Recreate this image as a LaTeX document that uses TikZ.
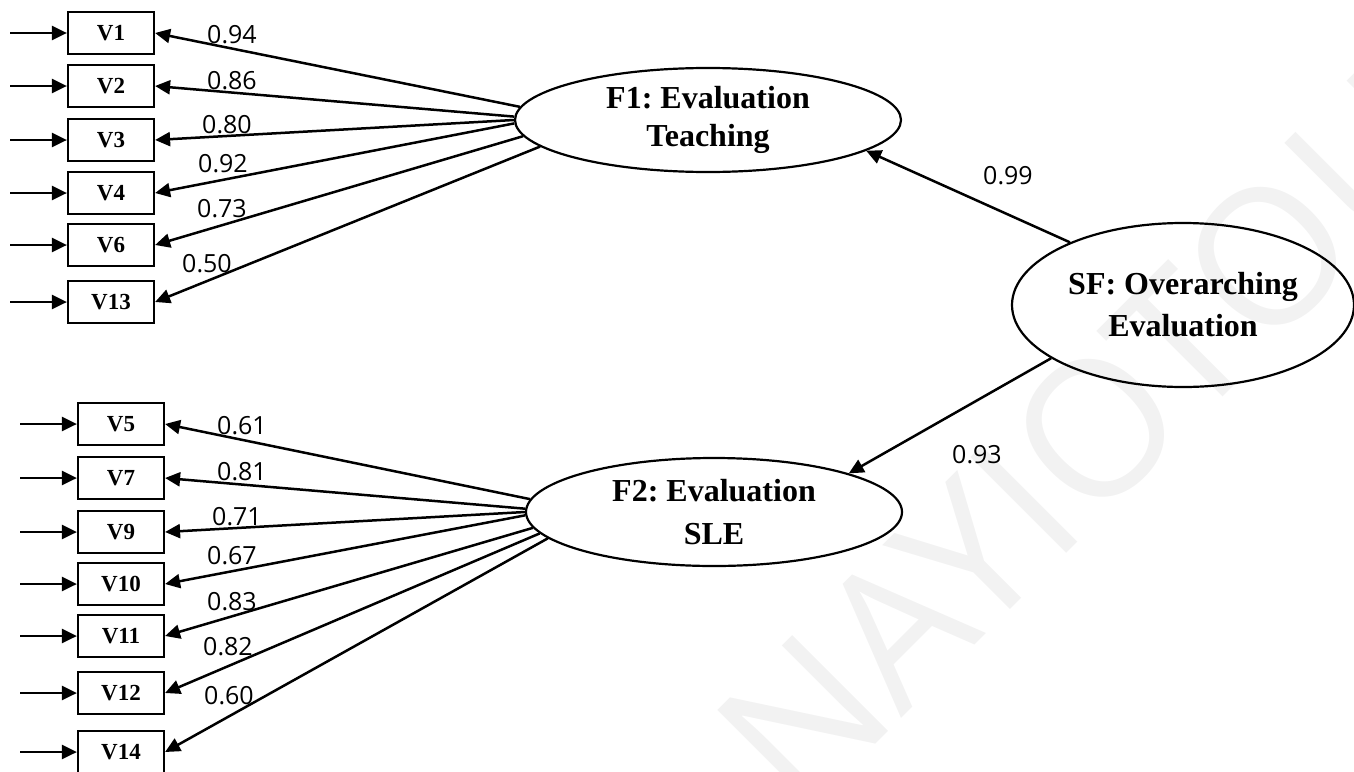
\documentclass[tikz,border=0pt]{standalone}
\usepackage{fontspec}
\setmainfont{Liberation Serif}
\newfontfamily\numfont{Open Sans}
\usetikzlibrary{arrows.meta,shapes.geometric}
\definecolor{wm}{RGB}{242,242,242}
\frenchspacing
\begin{document}
\begin{tikzpicture}[x=1pt,y=-1pt,
  obs/.style={draw, line width=2.2pt, minimum width=86pt, minimum height=42pt, inner sep=0pt,
    font=\fontsize{23}{25}\selectfont\bfseries},
  lat/.style={draw, ellipse, line width=2.2pt, inner sep=0pt, align=center},
  ld/.style={font=\numfont\fontsize{25}{28}\selectfont, inner sep=0pt},
  arr/.style={line width=2.5pt, -{Triangle[length=15pt,width=14pt]}},
]
\useasboundingbox (0,0) rectangle (1354,771);
\begin{scope}
\clip (0,0) rectangle (1354,771);
\node[wm, rotate=45, anchor=base west, inner sep=0pt, font=\numfont\fontsize{190}{190}\selectfont] (wmark) at (800,820) {NAYIOTOU};
\end{scope}

% latent factors
\node[lat, minimum width=386pt, minimum height=104pt, font=\fontsize{32}{38}\selectfont\bfseries] (F1) at (708,120) {F1: Evaluation\\Teaching};
\node[lat, minimum width=376pt, minimum height=108pt, font=\fontsize{32}{43}\selectfont\bfseries] (F2) at (714,512) {F2: Evaluation\\SLE};
\node[lat, minimum width=342pt, minimum height=164pt, font=\fontsize{32}{42}\selectfont\bfseries] (SF) at (1183,305) {SF: Overarching\\Evaluation};

% top indicators
\foreach \n/\y in {1/33, 2/86, 3/140, 4/193, 6/245, 13/302}{
  \node[obs] (V\n) at (111,\y) {V\n};
  \coordinate (e\n) at (10,\y);
  \draw[arr] (e\n) -- (V\n);
}
% bottom indicators
\foreach \n/\y in {5/424, 7/478, 9/532, 10/584, 11/636, 12/693, 14/752}{
  \node[obs] (V\n) at (121,\y) {V\n};
  \coordinate (e\n) at (20,\y);
  \draw[arr] (e\n) -- (V\n);
}

% loadings F1
\foreach \n/\a in {1/176, 2/179, 3/180, 4/181, 6/185, 13/189}{
  \draw[arr] (F1.\a) -- (V\n.east);
}
% loadings F2
\foreach \n/\a in {5/176, 7/179, 9/180, 10/181, 11/185, 12/187, 14/189}{
  \draw[arr] (F2.\a) -- (V\n.east);
}

% second order
\draw[arr] (SF.151.6) -- (F1.349);
\draw[arr] (SF.202.4) -- (F2.16);

% labels
\node[ld] (l1) at (232,35) {0.94};
\node[ld] (l2) at (232,81) {0.86};
\node[ld] (l3) at (227,125) {0.80};
\node[ld] (l4) at (223,164) {0.92};
\node[ld] (l6) at (222,209) {0.73};
\node[ld] (l13) at (207,264) {0.50};
\node[ld] (l5) at (242,426) {0.61};
\node[ld] (l7) at (242,472) {0.81};
\node[ld] (l9) at (237,517) {0.71};
\node[ld] (l10) at (232,556) {0.67};
\node[ld] (l11) at (232,602) {0.83};
\node[ld] (l12) at (228,647) {0.82};
\node[ld] (l14) at (229,696) {0.60};
\node[ld] (lsf1) at (1008,176) {0.99};
\node[ld] (lsf2) at (977,455) {0.93};
\end{tikzpicture}
\end{document}
